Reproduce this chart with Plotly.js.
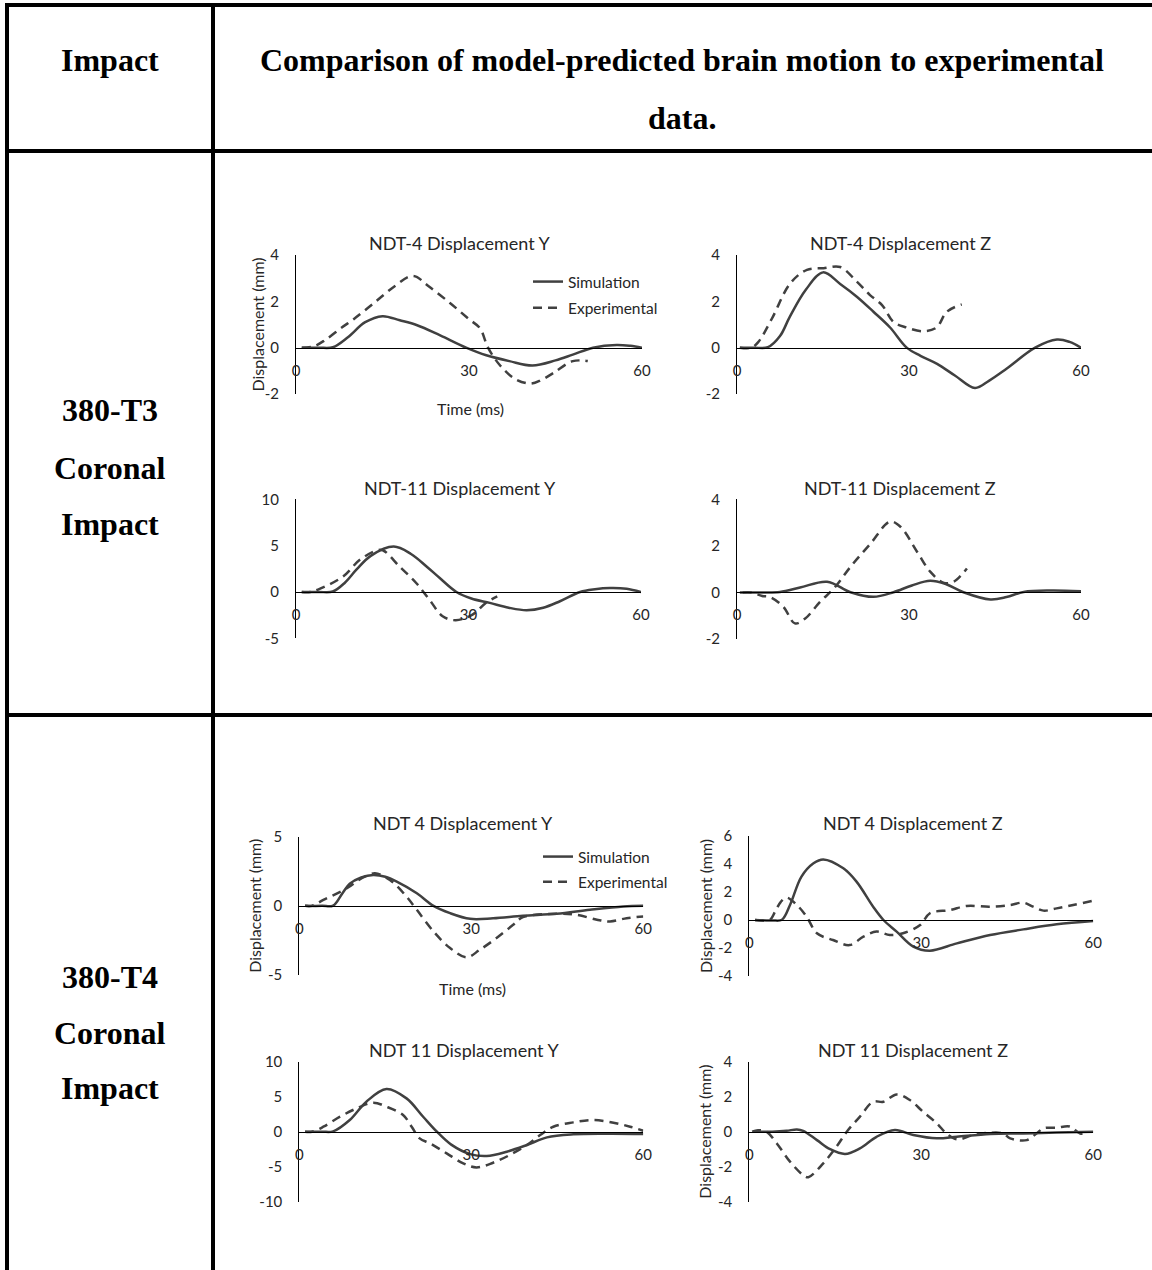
<!DOCTYPE html>
<html><head><meta charset="utf-8">
<script src="https://cdn.plot.ly/plotly-3.0.1.min.js"></script>
<style>html,body{margin:0;padding:0;background:#fff}#chart{width:1152px;height:1270px}</style>
</head><body><div id="chart"></div>
<script>
// ---------- DATA (time in ms, displacement in mm) ----------
// 380-T3, NDT-4 Displacement Y
const t3n4y_simT = [1, 4, 6.4, 9, 12, 15, 18, 21, 25, 29.5, 33, 37, 41, 45, 48, 51.5, 55.6, 58, 60];
const t3n4y_simD = [0, 0, 0.02, 0.45, 1.1, 1.36, 1.18, 0.97, 0.53, 0, -0.33, -0.58, -0.77, -0.55, -0.3, 0, 0.12, 0.08, 0];
const t3n4y_expT = [1, 3, 5, 8, 10, 13.4, 17, 20.3, 23, 26.7, 30, 31.9, 33.3, 35.4, 38, 40.6, 42.5, 44.6, 48, 50.6];
const t3n4y_expD = [0, 0.05, 0.32, 0.88, 1.23, 1.9, 2.63, 3.1, 2.65, 1.93, 1.23, 0.84, 0, -0.77, -1.35, -1.55, -1.4, -1.1, -0.58, -0.58];
// 380-T3, NDT-4 Displacement Z
const t3n4z_simT = [0.5, 3, 5.4, 7.5, 9.2, 12, 15, 18, 20.9, 23.8, 26.7, 29.6, 32, 34.9, 38, 41.5, 44, 47, 52, 55.8, 58, 60];
const t3n4z_simD = [0, 0, 0.02, 0.5, 1.33, 2.5, 3.25, 2.75, 2.2, 1.55, 0.87, 0, -0.35, -0.7, -1.2, -1.74, -1.42, -0.91, 0, 0.35, 0.25, 0];
const t3n4z_expT = [0.5, 2.5, 3.7, 6.1, 9.3, 12.2, 15.1, 18, 20.9, 23.2, 25.3, 27.3, 29.6, 32.5, 34.8, 36.6, 39.2];
const t3n4z_expD = [0, 0, 0.24, 1.26, 2.78, 3.36, 3.43, 3.48, 2.85, 2.27, 1.84, 1.11, 0.87, 0.71, 0.87, 1.55, 1.87];
// 380-T3, NDT-11 Displacement Y
const t3n11y_simT = [1, 4, 6.4, 8.5, 10.5, 13, 17, 20, 22.7, 25, 27.9, 30.5, 33.7, 37, 40.1, 43, 45.9, 49.4, 52, 54.6, 57.5, 60];
const t3n11y_simD = [0, 0, 0.05, 1.0, 2.4, 3.9, 4.9, 4.1, 2.75, 1.5, 0, -0.7, -1.18, -1.7, -1.97, -1.7, -1.0, 0, 0.3, 0.43, 0.35, 0];
const t3n11y_expT = [1, 2.5, 4.2, 8.2, 11.1, 14, 15.1, 18, 20.9, 23.2, 25.5, 27.8, 30.7, 33, 35];
const t3n11y_expD = [0, 0, 0.35, 1.68, 3.47, 4.47, 4.5, 2.75, 0.97, -0.83, -2.62, -3.05, -2.44, -1.18, -0.47];
// 380-T3, NDT-11 Displacement Z
const t3n11z_simT = [0.5, 4, 7.5, 11, 15.7, 19.8, 23.8, 27.3, 30.5, 33.7, 36.5, 39.5, 44.2, 47, 50, 54.7, 60];
const t3n11z_simD = [0, 0, 0.02, 0.21, 0.46, 0.01, -0.19, 0.01, 0.3, 0.5, 0.35, 0.01, -0.3, -0.2, 0.02, 0.08, 0.05];
const t3n11z_expT = [1, 2.5, 4.4, 5.8, 8.1, 10.1, 11.9, 14.5, 16.9, 19.8, 23.3, 26.7, 28.5, 31.4, 33.7, 36.1, 37.8, 40.1];
const t3n11z_expD = [0, 0, -0.15, -0.2, -0.62, -1.33, -1.12, -0.4, 0.17, 1.1, 2.1, 3.04, 2.82, 1.75, 0.89, 0.41, 0.46, 1.03];
// 380-T4, NDT 4 Displacement Y
const t4n4y_simT = [1, 4, 5.9, 7.5, 8.8, 10.8, 12.9, 15, 17, 20.5, 23.4, 26.3, 29.8, 33.8, 39, 44.9, 50.7, 56.5, 60];
const t4n4y_simD = [0, 0, 0.02, 0.9, 1.6, 2.05, 2.23, 2.1, 1.75, 0.91, 0, -0.53, -0.94, -0.9, -0.72, -0.58, -0.29, -0.05, 0];
const t4n4y_expT = [1, 2.2, 4.2, 8.3, 10.9, 13.2, 15.8, 18.7, 20.5, 23.4, 26.3, 29.2, 31.5, 34.4, 37.3, 39, 44.9, 48.4, 51.9, 54.2, 57.1, 60];
const t4n4y_expD = [0, 0, 0.43, 1.27, 2.0, 2.35, 1.87, 0.67, -0.29, -1.85, -3.05, -3.72, -3.17, -2.33, -1.37, -0.82, -0.58, -0.65, -1.0, -1.13, -0.89, -0.77];
// 380-T4, NDT 4 Displacement Z
const t4n4z_simT = [1, 4, 5.7, 7.1, 9.1, 11.2, 12.9, 16.4, 18.7, 21.6, 23.4, 25.7, 28.6, 31.5, 36.2, 42, 47.8, 53.6, 60];
const t4n4z_simD = [0, -0.03, 0.02, 1.07, 3.1, 4.05, 4.33, 3.69, 2.74, 0.95, 0, -0.83, -1.9, -2.19, -1.67, -1.07, -0.67, -0.31, -0.07];
const t4n4z_expT = [1, 2.5, 3.6, 4.5, 5.5, 6.5, 8.3, 10, 11.8, 14.6, 17.5, 19.9, 22.2, 24.5, 26.8, 29.8, 31.5, 35, 37.9, 42, 45.5, 47.8, 49.5, 51.3, 53.6, 56.5, 60];
const t4n4z_expD = [0, -0.05, 0, 0.6, 1.3, 1.6, 1.07, 0.24, -0.95, -1.43, -1.79, -1.19, -0.83, -1.07, -0.95, -0.36, 0.48, 0.71, 1.0, 0.95, 1.07, 1.24, 0.95, 0.67, 0.83, 1.07, 1.38];
// 380-T4, NDT 11 Displacement Y
const t4n11y_simT = [1, 4, 5.9, 8.8, 11.7, 15.2, 18.7, 21.6, 24, 26.5, 29.8, 32.7, 36.2, 39.7, 43.2, 47.8, 53.6, 60];
const t4n11y_simD = [0, 0, 0.05, 1.67, 4.29, 6.1, 4.76, 2.14, 0, -1.85, -3.2, -3.48, -2.86, -1.9, -0.81, -0.38, -0.3, -0.33];
const t4n11y_expT = [1, 2.2, 4.2, 7.1, 10, 12.9, 15.2, 18.1, 19.6, 21, 22.8, 25.7, 28.6, 30.9, 33.8, 36.7, 39.7, 42, 44.3, 47.8, 51.3, 54.8, 57.7, 60];
const t4n11y_expD = [0, 0, 0.71, 2.14, 3.33, 4.14, 3.57, 2.38, 0.71, -0.95, -1.67, -3.1, -4.52, -5.1, -4.43, -3.33, -1.9, -0.48, 0.71, 1.33, 1.67, 1.29, 0.71, 0.14];
// 380-T4, NDT 11 Displacement Z
const t4n11z_simT = [1, 4, 6.5, 8.3, 9.4, 11.8, 14.1, 16.7, 19.3, 22.2, 25.4, 28.6, 32.7, 36.2, 42, 47.8, 53.6, 60];
const t4n11z_simD = [0, 0, 0.05, 0.13, 0.05, -0.48, -1.0, -1.27, -0.95, -0.29, 0.1, -0.19, -0.38, -0.29, -0.13, -0.1, -0.05, 0];
const t4n11z_expT = [0.5, 1.5, 3, 4.8, 7.1, 9.4, 10.3, 12.9, 15.2, 17, 19.3, 21.6, 23.4, 25.7, 28, 30.3, 32.7, 34.4, 36.2, 39.1, 42, 44.3, 45.5, 48.4, 50.1, 51.3, 53.6, 55.9, 57.7, 59.1];
const t4n11z_expD = [0, 0.08, 0, -0.67, -1.71, -2.48, -2.6, -1.81, -0.86, 0, 0.86, 1.71, 1.71, 2.13, 1.81, 1.14, 0.48, -0.1, -0.44, -0.19, -0.06, -0.1, -0.38, -0.48, -0.1, 0.19, 0.23, 0.3, -0.1, -0.05];

const xTickVals = [0, 30, 60];
const seriesNames = ['Simulation', 'Experimental'];
const chartTitles = ['NDT-4 Displacement Y', 'NDT-4 Displacement Z', 'NDT-11 Displacement Y', 'NDT-11 Displacement Z',
                     'NDT 4 Displacement Y', 'NDT 4 Displacement Z', 'NDT 11 Displacement Y', 'NDT 11 Displacement Z'];
const yAxisTitle = 'Displacement (mm)';
const xAxisTitle = 'Time (ms)';
const headerTexts = ['Impact', 'Comparison of model-predicted brain motion to experimental', 'data.'];
const rowLabels = [['380-T3', 'Coronal', 'Impact'], ['380-T4', 'Coronal', 'Impact']];

// ---------- LAYOUT ----------
const W = 1152, H = 1270;
const fx = p => p / W, fy = p => 1 - p / H;
const FONT = 'Lato, "Open Sans", sans-serif';
const SERIF = '"Liberation Serif", "Times New Roman", serif';
const TXT = '#262626';
const LINE = '#404040';

const panels = [
  {sim:[t3n4y_simT,t3n4y_simD], exp:[t3n4y_expT,t3n4y_expD], xpx:[296,642], ypx:[255,394], yr:[-2,4], dt:2, title:[460,243], ytitle:[257], xtitle:[470,408], legend:'legend'},
  {sim:[t3n4z_simT,t3n4z_simD], exp:[t3n4z_expT,t3n4z_expD], xpx:[737,1081], ypx:[255,394], yr:[-2,4], dt:2, title:[900,243]},
  {sim:[t3n11y_simT,t3n11y_simD], exp:[t3n11y_expT,t3n11y_expD], xpx:[296,641], ypx:[499.3,638.3], yr:[-5,10], dt:5, title:[460,488]},
  {sim:[t3n11z_simT,t3n11z_simD], exp:[t3n11z_expT,t3n11z_expD], xpx:[737,1081], ypx:[499.3,639], yr:[-2,4], dt:2, title:[900,488]},
  {sim:[t4n4y_simT,t4n4y_simD], exp:[t4n4y_expT,t4n4y_expD], xpx:[299.3,643.3], ypx:[836.7,975], yr:[-5,5], dt:5, title:[463,823], ytitle:[255], xtitle:[472,988], legend:'legend2'},
  {sim:[t4n4z_simT,t4n4z_simD], exp:[t4n4z_expT,t4n4z_expD], xpx:[749.3,1093.3], ypx:[836,976], yr:[-4,6], dt:2, title:[913,823], ytitle:[705]},
  {sim:[t4n11y_simT,t4n11y_simD], exp:[t4n11y_expT,t4n11y_expD], xpx:[299.3,643.3], ypx:[1061.7,1201.7], yr:[-10,10], dt:5, title:[464,1050]},
  {sim:[t4n11z_simT,t4n11z_simD], exp:[t4n11z_expT,t4n11z_expD], xpx:[749.3,1093.3], ypx:[1061.7,1201.7], yr:[-4,4], dt:2, title:[913,1050], ytitle:[705]}
];

const data = [];
const annotations = [];
const layout = {
  width: W, height: H, margin: {l:0, r:0, t:0, b:0},
  paper_bgcolor: '#fff', plot_bgcolor: 'rgba(0,0,0,0)',
  showlegend: true, hovermode: false,
  font: {family: FONT, color: TXT, size: 15},
  legend: {x: fx(528), y: fy(265), xanchor:'left', yanchor:'top', bgcolor:'rgba(0,0,0,0)', font:{family:FONT, size:15.5, color:TXT}, tracegroupgap: 3, traceorder:'grouped'},
  legend2: {x: fx(538), y: fy(840), xanchor:'left', yanchor:'top', bgcolor:'rgba(0,0,0,0)', font:{family:FONT, size:15.5, color:TXT}, tracegroupgap: 2, traceorder:'grouped'},
  shapes: [], annotations: annotations
};

panels.forEach((p, i) => {
  const n = i + 1, suf = n > 1 ? String(n) : '';
  const y0px = p.ypx[0] + (p.yr[1] - 0) / (p.yr[1] - p.yr[0]) * (p.ypx[1] - p.ypx[0]);
  const yTicks = [];
  for (let v = p.yr[0]; v <= p.yr[1] + 1e-9; v += p.dt) yTicks.push(v);
  layout['xaxis' + suf] = {
    domain: [fx(p.xpx[0]), fx(p.xpx[1])], range: [0, 60], anchor: 'free', position: fy(y0px),
    tickmode: 'array', tickvals: xTickVals, ticktext: xTickVals.map(String), ticks: 'outside', ticklen: 9, tickcolor: 'rgba(0,0,0,0)',
    showline: true, linecolor: '#000', linewidth: 1, showgrid: false, zeroline: false,
    tickfont: {family: FONT, size: 15, color: TXT}, fixedrange: true
  };
  layout['yaxis' + suf] = {
    domain: [fy(p.ypx[1]), fy(p.ypx[0])], range: p.yr, anchor: 'x' + suf,
    tickmode: 'array', tickvals: yTicks, ticktext: yTicks.map(String), ticks: 'outside', ticklen: 13, tickcolor: 'rgba(0,0,0,0)',
    showline: true, linecolor: '#000', linewidth: 1, showgrid: false, zeroline: false,
    tickfont: {family: FONT, size: 15, color: TXT}, fixedrange: true
  };
  [[p.sim, 'solid'], [p.exp, '9px,6px']].forEach(([s, dash], k) => {
    data.push({
      type: 'scatter', mode: 'lines', x: s[0], y: s[1], name: seriesNames[k],
      xaxis: 'x' + suf, yaxis: 'y' + suf,
      line: {color: LINE, width: 2.5, dash: dash, shape: 'spline', smoothing: 1},
      showlegend: !!p.legend, legend: p.legend || 'legend', legendgroup: 'g' + n + k
    });
  });
  annotations.push({text: chartTitles[i], xref:'paper', yref:'paper', x: fx(p.title[0]), y: fy(p.title[1]),
    xanchor:'center', yanchor:'middle', showarrow:false, font:{family:FONT, size:18, color:TXT}});
  if (p.ytitle) annotations.push({text: yAxisTitle, xref:'paper', yref:'paper', x: fx(p.ytitle[0]), y: fy((p.ypx[0]+p.ypx[1])/2),
    xanchor:'center', yanchor:'middle', textangle:-90, showarrow:false, font:{family:FONT, size:16, color:TXT}});
  if (p.xtitle) annotations.push({text: xAxisTitle, xref:'paper', yref:'paper', x: fx(p.xtitle[0]), y: fy(p.xtitle[1]),
    xanchor:'center', yanchor:'middle', showarrow:false, font:{family:FONT, size:16, color:TXT}});
});

// table text
const serifFont = {family: SERIF, size: 32, color: '#000'};
const addT = (t, x, y) => annotations.push({text:'<b>'+t+'</b>', xref:'paper', yref:'paper', x:fx(x), y:fy(y), xanchor:'center', yanchor:'middle', showarrow:false, font:serifFont});
addT(headerTexts[0], 110, 60);
addT(headerTexts[1], 682, 60);
addT(headerTexts[2], 682, 118);
const rowY = [[410, 468, 524], [977, 1033, 1088]];
rowLabels.forEach((r, i) => r.forEach((t, j) => addT(t, 110, rowY[i][j])));

// table rules
const rule = (x0, y0, x1, y1) => layout.shapes.push({type:'line', xref:'paper', yref:'paper', x0:fx(x0), y0:fy(y0), x1:fx(x1), y1:fy(y1), line:{color:'#000', width:4}});
rule(5, 5, 1152, 5);
rule(7, 3, 7, 1270);
rule(213, 3, 213, 1270);
rule(5, 151, 1152, 151);
rule(5, 715, 1152, 715);

Plotly.newPlot('chart', data, layout, {staticPlot: true, displayModeBar: false});
</script></body></html>
